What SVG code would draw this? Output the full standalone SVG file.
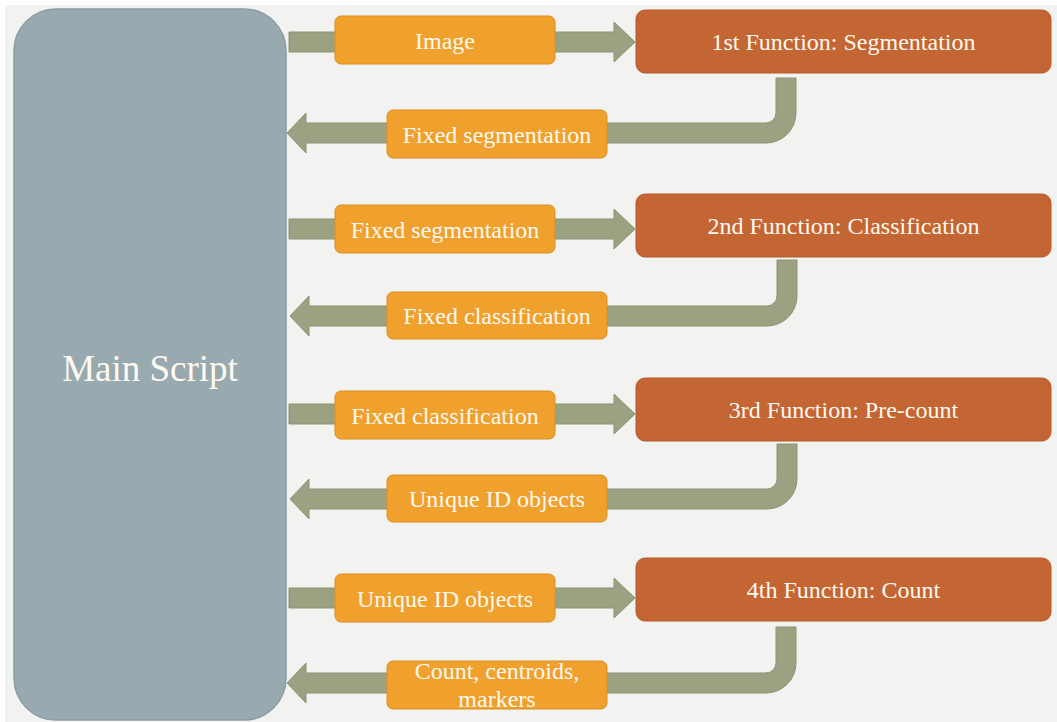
<svg xmlns="http://www.w3.org/2000/svg" width="1057" height="722" viewBox="0 0 1057 722">
<style>
.bg{fill:#F2F2F0}
.main{fill:#98AAB0;stroke:#8B9DA3;stroke-width:1.5}
.lbl{fill:#F0A02C;stroke:#DA8E24;stroke-width:1}
.fn{fill:#C46534;stroke:#B45A2C;stroke-width:1}
.arr{fill:#9BA282;stroke:#8C9373;stroke-width:1}
text{fill:#FFF9F0;text-anchor:middle}
.t24{font-size:24px}
.t37{font-size:37px}
</style>
<rect x="0" y="0" width="1057" height="722" fill="#FFFFFF"/>
<rect class="bg" x="5" y="5" width="1052" height="717"/>
<g id="connectors">
<path class="arr" d="M289,32 H614 V22 L635,42 L614,62 V52 H289 Z"/>
<path class="arr" d="M289,219 H614 V209 L635,229 L614,249 V239 H289 Z"/>
<path class="arr" d="M289,404 H614 V394 L635,414 L614,434 V424 H289 Z"/>
<path class="arr" d="M289,588 H614 V578 L635,598 L614,618 V608 H289 Z"/>
<path class="arr" d="M776,78 H796 V113 A30,30 0 0 1 766,143 H306 V153 L287,133 L306,113 V123 H766 A10,10 0 0 0 776,113 Z"/>
<path class="arr" d="M777,260 H797 V296 A30,30 0 0 1 767,326 H309 V336 L290,316 L309,296 V306 H767 A10,10 0 0 0 777,296 Z"/>
<path class="arr" d="M777,444 H797 V479 A30,30 0 0 1 767,509 H309 V519 L290,499 L309,479 V489 H767 A10,10 0 0 0 777,479 Z"/>
<path class="arr" d="M776,627 H796 V663 A30,30 0 0 1 766,693 H306 V703 L287,683 L306,663 V673 H766 A10,10 0 0 0 776,663 Z"/>
</g>
<g font-family="Liberation Serif, Times New Roman, DejaVu Serif, serif">
<g id="main-script">
<rect class="main" x="14" y="9" width="272" height="711" rx="42"/>
<text class="t37" x="150" y="381">Main Script</text>
</g>
<g id="label-image">
<rect class="lbl" x="335" y="16" width="220" height="48" rx="6"/>
<text class="t24" x="445" y="48.5">Image</text>
</g>
<g id="fn1">
<rect class="fn" x="636" y="10" width="415" height="63" rx="9"/>
<text class="t24" x="843.5" y="50">1st Function: Segmentation</text>
</g>
<g id="label-ret1">
<rect class="lbl" x="387" y="110" width="220" height="48" rx="6"/>
<text class="t24" x="497" y="142.5">Fixed segmentation</text>
</g>
<g id="label-fwd2">
<rect class="lbl" x="335" y="205" width="220" height="48" rx="6"/>
<text class="t24" x="445" y="237.5">Fixed segmentation</text>
</g>
<g id="fn2">
<rect class="fn" x="636" y="194" width="415" height="63" rx="9"/>
<text class="t24" x="843.5" y="234">2nd Function: Classification</text>
</g>
<g id="label-ret2">
<rect class="lbl" x="387" y="292" width="220" height="47" rx="6"/>
<text class="t24" x="497" y="323.5">Fixed classification</text>
</g>
<g id="label-fwd3">
<rect class="lbl" x="335" y="391" width="220" height="48" rx="6"/>
<text class="t24" x="445" y="423.5">Fixed classification</text>
</g>
<g id="fn3">
<rect class="fn" x="636" y="378" width="415" height="63" rx="9"/>
<text class="t24" x="843.5" y="418">3rd Function: Pre-count</text>
</g>
<g id="label-ret3">
<rect class="lbl" x="387" y="475" width="220" height="47" rx="6"/>
<text class="t24" x="497" y="506.5">Unique ID objects</text>
</g>
<g id="label-fwd4">
<rect class="lbl" x="335" y="574" width="220" height="48" rx="6"/>
<text class="t24" x="445" y="606.5">Unique ID objects</text>
</g>
<g id="fn4">
<rect class="fn" x="636" y="558" width="415" height="63" rx="9"/>
<text class="t24" x="843.5" y="598">4th Function: Count</text>
</g>
<g id="label-ret4">
<rect class="lbl" x="387" y="661" width="220" height="48" rx="6"/>
<text class="t24" x="497" y="679">Count, centroids,</text>
<text class="t24" x="497" y="707">markers</text>
</g>
</g>
</svg>
